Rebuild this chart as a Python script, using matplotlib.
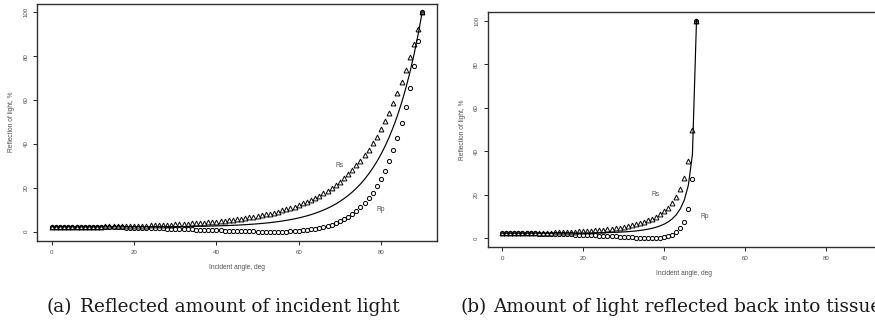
import matplotlib
matplotlib.use("Agg")
import matplotlib.pyplot as plt
import numpy as np

# ---------------- data ----------------
angles_a = list(range(0, 91))
rs_a = [2.22, 2.22, 2.22, 2.23, 2.23, 2.24, 2.25, 2.27, 2.28, 2.30,
        2.32, 2.34, 2.37, 2.39, 2.42, 2.46, 2.49, 2.53, 2.57, 2.61,
        2.66, 2.71, 2.76, 2.82, 2.88, 2.95, 3.02, 3.09, 3.17, 3.26,
        3.35, 3.45, 3.55, 3.66, 3.77, 3.90, 4.03, 4.17, 4.32, 4.48,
        4.65, 4.83, 5.02, 5.23, 5.45, 5.69, 5.94, 6.21, 6.50, 6.81,
        7.14, 7.50, 7.88, 8.29, 8.73, 9.20, 9.71, 10.26, 10.85, 11.48,
        12.17, 12.90, 13.70, 14.56, 15.49, 16.49, 17.58, 18.75, 20.02, 21.39,
        22.88, 24.51, 26.24, 28.13, 30.19, 32.41, 34.83, 37.45, 40.29, 43.37,
        46.71, 50.33, 54.26, 58.51, 63.13, 68.13, 73.54, 79.40, 85.74, 92.59,
        100.0]
rp_a = [2.22, 2.22, 2.21, 2.21, 2.20, 2.19, 2.18, 2.17, 2.15, 2.14,
        2.12, 2.10, 2.07, 2.05, 2.02, 1.99, 1.96, 1.93, 1.89, 1.85,
        1.81, 1.77, 1.73, 1.68, 1.64, 1.59, 1.54, 1.48, 1.43, 1.37,
        1.31, 1.25, 1.19, 1.13, 1.06, 0.99, 0.93, 0.86, 0.79, 0.72,
        0.65, 0.59, 0.52, 0.45, 0.39, 0.32, 0.26, 0.21, 0.16, 0.11,
        0.07, 0.04, 0.01, 0.00, 0.00, 0.02, 0.05, 0.10, 0.18, 0.28,
        0.41, 0.57, 0.78, 1.03, 1.33, 1.69, 2.12, 2.63, 3.22, 3.91,
        4.72, 5.67, 6.74, 7.99, 9.44, 11.10, 13.02, 15.22, 17.74, 20.64,
        23.96, 27.77, 32.13, 37.13, 42.86, 49.43, 56.96, 65.60, 75.52, 86.91,
        100.0]

angles_b = list(range(0, 49))
rs_b = [2.22, 2.22, 2.23, 2.23, 2.25, 2.26, 2.29, 2.31, 2.34, 2.37,
        2.41, 2.45, 2.50, 2.56, 2.62, 2.68, 2.76, 2.84, 2.93, 3.02,
        3.13, 3.25, 3.38, 3.53, 3.69, 3.87, 4.07, 4.29, 4.53, 4.81,
        5.12, 5.46, 5.86, 6.30, 6.81, 7.40, 8.09, 8.88, 9.83, 10.95,
        12.31, 13.98, 16.08, 18.78, 22.40, 27.49, 35.32, 49.84, 100.0]
rp_b = [2.22, 2.22, 2.21, 2.20, 2.19, 2.17, 2.15, 2.13, 2.10, 2.07,
        2.03, 1.99, 1.95, 1.90, 1.85, 1.80, 1.74, 1.67, 1.60, 1.53,
        1.45, 1.37, 1.29, 1.20, 1.11, 1.01, 0.91, 0.81, 0.70, 0.59,
        0.49, 0.38, 0.28, 0.19, 0.11, 0.04, 0.01, 0.01, 0.06, 0.19,
        0.44, 0.86, 1.54, 2.64, 4.45, 7.56, 13.42, 27.24, 100.0]

x_ticks = [0, 20, 40, 60, 80]
y_ticks = [0, 20, 40, 60, 80, 100]
x_label = "Incident angle, deg"
y_label = "Reflection of light, %"
labels_a = {"Rs": (70, 30), "Rp": (80, 10)}
labels_b = {"Rs": (38, 20), "Rp": (50, 10)}
caption_a = ("(a)", "Reflected amount of incident light")
caption_b = ("(b)", "Amount of light reflected back into tissue")

# ---------------- drawing ----------------
W, H = 875, 322
fig = plt.figure(figsize=(W / 100, H / 100), dpi=100)
sans = "Liberation Sans"
txt_col = "#505050"


def make_panel(rect, ang, rs, rp, lbls):
    ax = fig.add_axes(rect)
    mean = (np.asarray(rs) + np.asarray(rp)) / 2.0
    ax.plot(ang, mean, color="black", lw=0.85, zorder=2)
    ax.plot(ang, rs, linestyle="none", marker="^", ms=3.5, mfc="none",
            mec="black", mew=0.7, zorder=3)
    ax.plot(ang, rp, linestyle="none", marker="o", ms=3.0, mfc="none",
            mec="black", mew=0.7, zorder=3)
    for t, (xx, yy) in lbls.items():
        ax.text(xx, yy, t, ha="center", va="center", fontsize=4.8,
                family=sans, color=txt_col)
    ax.set_xlim(-3.6, 93.6)
    ax.set_ylim(-4, 104)
    ax.set_xticks(x_ticks)
    ax.set_yticks(y_ticks)
    ax.tick_params(axis="both", direction="out", length=3.2, width=0.7,
                   labelsize=4.4, colors="#222222", labelcolor=txt_col)
    ax.tick_params(axis="x", pad=3.8)
    ax.tick_params(axis="y", pad=3.0)
    for lab in ax.get_xticklabels() + ax.get_yticklabels():
        lab.set_family(sans)
    for lab in ax.get_yticklabels():
        lab.set_rotation(90)
        lab.set_va("center")
    for sp in ax.spines.values():
        sp.set_linewidth(1.0)
        sp.set_color("#303030")
    ax.set_xlabel(x_label, fontsize=4.8, family=sans, color=txt_col,
                  labelpad=6.5)
    ax.set_ylabel(y_label, fontsize=4.8, family=sans, color=txt_col,
                  labelpad=6.0)
    return ax


axA = make_panel([37 / W, 81.5 / H, 400 / W, 237 / H], angles_a, rs_a, rp_a, labels_a)
axB = make_panel([487.7 / W, 75.3 / H, 393.3 / W, 234.7 / H], angles_b, rs_b, rp_b, labels_b)

serif = "DejaVu Serif"
cap_y = 1 - 311.7 / H
cap_size = 13.3
fig.text(47 / W, cap_y, caption_a[0], family=serif, fontsize=cap_size,
         va="baseline", color="#1a1a1a")
fig.text(80 / W, cap_y, caption_a[1], family=serif, fontsize=cap_size,
         va="baseline", color="#1a1a1a")
fig.text(460 / W, cap_y, caption_b[0], family=serif, fontsize=cap_size,
         va="baseline", color="#1a1a1a")
fig.text(493 / W, cap_y, caption_b[1], family=serif, fontsize=cap_size,
         va="baseline", color="#1a1a1a")

fig.savefig("out.png", dpi=100)
